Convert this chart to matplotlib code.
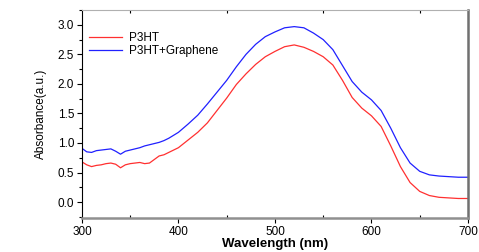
import matplotlib
matplotlib.use("Agg")
import matplotlib.pyplot as plt
from matplotlib.ticker import MultipleLocator

plt.rcParams["font.family"] = ["Liberation Sans", "DejaVu Sans"]

wavelength = [300, 305, 310, 315, 320, 325, 330, 335, 340, 345, 350, 355, 360, 365, 370,
              375, 380, 385, 390, 395, 400, 410, 420, 430, 440, 450, 460, 470, 480, 490,
              500, 510, 520, 530, 540, 550, 560, 570, 580, 590, 600, 610, 620, 630, 640,
              650, 660, 670, 680, 690, 700]

p3ht = [0.68, 0.63, 0.60, 0.62, 0.63, 0.65, 0.66, 0.64, 0.58, 0.63, 0.65, 0.66, 0.67, 0.65, 0.66,
        0.72, 0.78, 0.80, 0.84, 0.88, 0.92, 1.05, 1.18, 1.34, 1.55, 1.76, 1.99, 2.17, 2.33, 2.46,
        2.55, 2.63, 2.66, 2.62, 2.55, 2.46, 2.32, 2.06, 1.77, 1.59, 1.46, 1.28, 0.95, 0.60, 0.33,
        0.18, 0.11, 0.08, 0.07, 0.06, 0.06]

p3ht_graphene = [0.91, 0.85, 0.84, 0.87, 0.88, 0.89, 0.90, 0.86, 0.81, 0.86, 0.88, 0.90, 0.92, 0.95, 0.97,
                 0.99, 1.01, 1.04, 1.08, 1.13, 1.18, 1.32, 1.47, 1.66, 1.86, 2.06, 2.29, 2.50, 2.67, 2.80,
                 2.88, 2.95, 2.97, 2.95, 2.86, 2.75, 2.58, 2.31, 2.04, 1.86, 1.73, 1.55, 1.25, 0.92, 0.66,
                 0.52, 0.46, 0.44, 0.43, 0.42, 0.42]

fig = plt.figure(figsize=(4.79, 2.52), dpi=100)
ax = fig.add_axes([0.171, 0.135, 0.806, 0.825])

ax.plot(wavelength, p3ht, color="#ff3030", lw=0.9, label="P3HT")
ax.plot(wavelength, p3ht_graphene, color="#2020ff", lw=0.9, label="P3HT+Graphene")

ax.set_xlim(300, 700)
ax.set_ylim(-0.27, 3.25)
ax.xaxis.set_major_locator(MultipleLocator(100))
ax.xaxis.set_minor_locator(MultipleLocator(50))
ax.yaxis.set_major_locator(MultipleLocator(0.5))
ax.yaxis.set_minor_locator(MultipleLocator(0.25))
ax.yaxis.set_major_formatter(matplotlib.ticker.FormatStrFormatter("%.1f"))

ax.tick_params(axis="both", which="major", direction="out", length=3.5, width=0.8,
               labelsize=8.5, pad=2, top=False, right=False)
ax.tick_params(axis="both", which="minor", direction="out", length=2, width=0.8)
ax.tick_params(axis="x", which="minor", top=True, direction="in")

ax.spines["left"].set_color("black")
ax.spines["left"].set_linewidth(0.8)
ax.spines["bottom"].set_color("#909090")
ax.spines["bottom"].set_linewidth(1.8)
ax.spines["right"].set_color("#707070")
ax.spines["right"].set_linewidth(1.8)
ax.spines["top"].set_color("#b0b0b0")
ax.spines["top"].set_linewidth(0.8)

ax.set_xlabel("Wavelength (nm)", fontsize=9.5, fontweight="bold", labelpad=0.5)
ax.set_ylabel("Absorbance(a.u.)", fontsize=8.5, labelpad=8)

ax.legend(loc="upper left", frameon=False, fontsize=8.5, handlelength=2.8,
          handletextpad=0.6, borderaxespad=0.2, labelspacing=0.1,
          bbox_to_anchor=(0.0, 0.93))

fig.savefig("out.png", dpi=100)
